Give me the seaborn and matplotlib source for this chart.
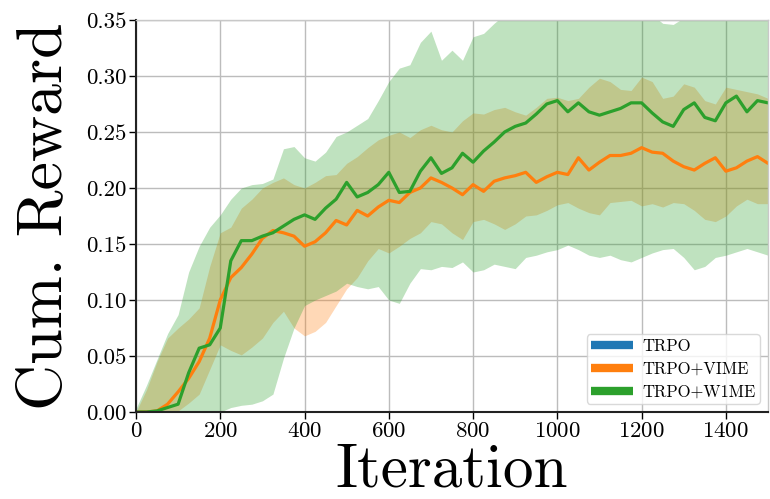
import numpy as np
import pandas as pd
import matplotlib
matplotlib.use("Agg")
import matplotlib.pyplot as plt
import seaborn as sns
from matplotlib.lines import Line2D

iterations = list(range(0, 1501, 25))

vime_mean = [0.0, 0.0, 0.001, 0.007, 0.018, 0.030, 0.045, 0.066, 0.100, 0.120,
             0.129, 0.141, 0.155, 0.162, 0.160, 0.157, 0.148, 0.152, 0.160, 0.171,
             0.167, 0.180, 0.175, 0.183, 0.189, 0.187, 0.196, 0.200, 0.209, 0.205,
             0.200, 0.194, 0.203, 0.197, 0.206, 0.209, 0.211, 0.214, 0.205, 0.210,
             0.214, 0.212, 0.227, 0.216, 0.223, 0.229, 0.229, 0.231, 0.236, 0.232,
             0.231, 0.224, 0.219, 0.216, 0.222, 0.227, 0.215, 0.218, 0.224, 0.228,
             0.222]
vime_upper = [0.0, 0.020, 0.045, 0.066, 0.075, 0.083, 0.093, 0.130, 0.160, 0.165,
              0.182, 0.190, 0.200, 0.205, 0.209, 0.203, 0.200, 0.205, 0.211, 0.212,
              0.222, 0.228, 0.236, 0.243, 0.247, 0.250, 0.245, 0.252, 0.256, 0.252,
              0.250, 0.260, 0.267, 0.266, 0.270, 0.272, 0.268, 0.265, 0.272, 0.280,
              0.281, 0.278, 0.280, 0.290, 0.298, 0.295, 0.288, 0.287, 0.299, 0.295,
              0.280, 0.282, 0.293, 0.290, 0.278, 0.275, 0.290, 0.288, 0.286, 0.284,
              0.280]
vime_lower = [0.0, 0.0, 0.0, 0.0, 0.001, 0.008, 0.016, 0.038, 0.060, 0.055,
              0.051, 0.058, 0.066, 0.080, 0.090, 0.075, 0.068, 0.072, 0.080, 0.095,
              0.110, 0.120, 0.135, 0.146, 0.142, 0.148, 0.155, 0.160, 0.170, 0.168,
              0.160, 0.154, 0.170, 0.172, 0.168, 0.163, 0.168, 0.175, 0.176, 0.180,
              0.185, 0.187, 0.182, 0.178, 0.176, 0.187, 0.188, 0.189, 0.184, 0.186,
              0.183, 0.187, 0.186, 0.180, 0.172, 0.170, 0.175, 0.184, 0.190, 0.186,
              0.186]

w1me_mean = [0.0, 0.0, 0.001, 0.004, 0.007, 0.035, 0.057, 0.060, 0.075, 0.135,
             0.153, 0.153, 0.157, 0.160, 0.166, 0.172, 0.176, 0.172, 0.182, 0.190,
             0.205, 0.192, 0.196, 0.203, 0.214, 0.196, 0.197, 0.215, 0.227, 0.213,
             0.218, 0.231, 0.223, 0.233, 0.241, 0.250, 0.255, 0.258, 0.266, 0.275,
             0.278, 0.268, 0.276, 0.268, 0.265, 0.268, 0.271, 0.276, 0.276, 0.267,
             0.259, 0.255, 0.270, 0.276, 0.263, 0.260, 0.276, 0.282, 0.268, 0.278,
             0.276]
w1me_upper = [0.003, 0.024, 0.047, 0.070, 0.087, 0.125, 0.148, 0.165, 0.176, 0.190,
              0.200, 0.203, 0.204, 0.208, 0.235, 0.237, 0.227, 0.224, 0.232, 0.246,
              0.250, 0.256, 0.262, 0.278, 0.295, 0.307, 0.310, 0.330, 0.340, 0.314,
              0.323, 0.314, 0.335, 0.338, 0.347, 0.355, 0.360, 0.365, 0.368, 0.370,
              0.372, 0.370, 0.368, 0.366, 0.365, 0.362, 0.360, 0.358, 0.356, 0.355,
              0.347, 0.346, 0.352, 0.355, 0.360, 0.362, 0.364, 0.365, 0.364, 0.362,
              0.360]
w1me_lower = [0.0, 0.0, 0.0, 0.0, 0.0, 0.0, 0.0, 0.0, 0.0, 0.004,
              0.006, 0.007, 0.010, 0.016, 0.048, 0.075, 0.095, 0.100, 0.104, 0.108,
              0.115, 0.112, 0.110, 0.112, 0.100, 0.097, 0.115, 0.128, 0.127, 0.130,
              0.129, 0.134, 0.125, 0.127, 0.132, 0.130, 0.128, 0.138, 0.140, 0.143,
              0.145, 0.149, 0.145, 0.140, 0.138, 0.140, 0.136, 0.134, 0.138, 0.142,
              0.145, 0.146, 0.138, 0.127, 0.130, 0.138, 0.140, 0.143, 0.146, 0.143,
              0.140]

series_names = ["TRPO", "TRPO+VIME", "TRPO+W1ME"]
colors = ["#1f77b4", "#ff7f0e", "#2ca02c"]

sns.set_style("whitegrid")
plt.rcParams["font.family"] = ["cmr10", "DejaVu Serif"]
plt.rcParams["axes.formatter.use_mathtext"] = True
plt.rcParams["mathtext.fontset"] = "cm"
plt.rcParams["text.color"] = "black"
plt.rcParams["axes.labelcolor"] = "black"
plt.rcParams["xtick.color"] = "black"
plt.rcParams["ytick.color"] = "black"

fig = plt.figure(figsize=(7.7, 4.99), dpi=100)
ax = fig.add_axes([0.1766, 0.1743, 0.8208, 0.7857])

df = pd.DataFrame({
    "Iteration": iterations * 2,
    "reward": vime_mean + w1me_mean,
    "method": ["TRPO+VIME"] * len(iterations) + ["TRPO+W1ME"] * len(iterations),
})

ax.fill_between(iterations, vime_lower, vime_upper, color=colors[1], alpha=0.3,
                linewidth=0)
ax.fill_between(iterations, w1me_lower, w1me_upper, color=colors[2], alpha=0.3,
                linewidth=0)
sns.lineplot(data=df, x="Iteration", y="reward", hue="method",
             palette={"TRPO+VIME": colors[1], "TRPO+W1ME": colors[2]},
             linewidth=2.3, ax=ax, legend=False)

ax.set_xlim(0, 1500)
ax.set_ylim(0, 0.35)
ax.set_xticks([0, 200, 400, 600, 800, 1000, 1200, 1400])
ax.set_yticks([0.0, 0.05, 0.10, 0.15, 0.20, 0.25, 0.30, 0.35])
ax.set_yticklabels(["0.00", "0.05", "0.10", "0.15", "0.20", "0.25", "0.30", "0.35"])
ax.tick_params(axis="both", labelsize=16.5, length=5, width=1, color="black",
               direction="out", left=True, bottom=True, pad=2)
ax.grid(True, color="#bcbcbc", linewidth=1.0)
for side in ["left", "bottom"]:
    ax.spines[side].set_color("#222222")
    ax.spines[side].set_linewidth(1.5)
for side in ["top", "right"]:
    ax.spines[side].set_color("#c8c8c8")
    ax.spines[side].set_linewidth(1.0)

ax.set_xlabel("Iteration", fontsize=44, labelpad=1.5)
ax.set_ylabel("Cum. Reward", fontsize=46, labelpad=8)

handles = [Line2D([0], [0], color=c, linewidth=6, solid_capstyle="butt")
           for c in colors]
leg = ax.legend(handles, series_names, loc="lower right", fontsize=12,
                frameon=True, handlelength=2.5, borderpad=0.25,
                handletextpad=0.55, labelspacing=0.45, borderaxespad=0.5)
leg.get_frame().set_edgecolor("#d0d0d0")

fig.savefig("out.png", dpi=100)
